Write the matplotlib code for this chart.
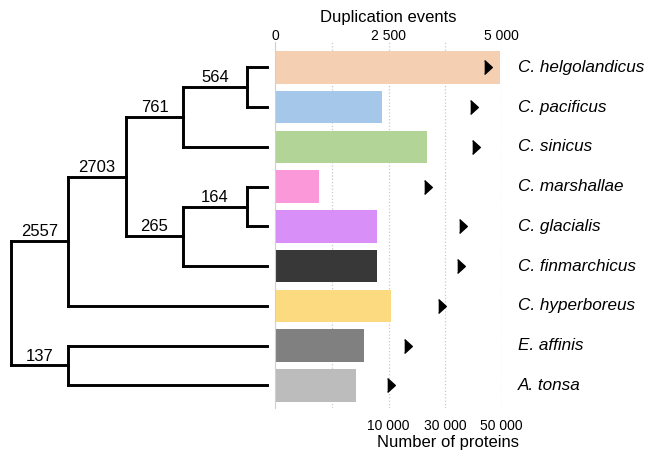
import matplotlib
matplotlib.use('Agg')
import matplotlib.pyplot as plt
import numpy as np

plt.rcParams['font.family'] = ['Liberation Sans', 'DejaVu Sans']

# Data (top to bottom)
species = ['C. helgolandicus', 'C. pacificus', 'C. sinicus', 'C. marshallae',
           'C. glacialis', 'C. finmarchicus', 'C. hyperboreus', 'E. affinis', 'A. tonsa']
proteins = [49400, 9430, 23500, 3890, 8970, 8970, 10960, 7860, 7160]
dup_events = [4690, 4380, 4440, 3370, 4140, 4110, 3680, 2930, 2550]
bar_colors = ['#f5cfb1', '#a5c7e9', '#b2d497', '#fb98da', '#d98ff8',
              '#383838', '#fcda7f', '#808080', '#bcbcbc']

# Tree: internal node -> children, node depth (pixel-like units)
tree = {
    'R': (['A', 'G'], 11),
    'A': (['B', 'C. hyperboreus'], 68),
    'G': (['E. affinis', 'A. tonsa'], 68),
    'B': (['C', 'D'], 126),
    'C': (['E', 'C. sinicus'], 183),
    'D': (['F', 'C. finmarchicus'], 183),
    'E': (['C. helgolandicus', 'C. pacificus'], 247),
    'F': (['C. marshallae', 'C. glacialis'], 247),
}
leaf_depth = 267
edge_labels = {'A': '2557', 'B': '2703', 'C': '761', 'E': '564',
               'D': '265', 'F': '164', 'G': '137'}

W, H = 648, 453
fig = plt.figure(figsize=(W / 100, H / 100), dpi=100)
bottom, top = 408, 42
left, right = 275.3, 501.7
ax = fig.add_axes([left / W, 1 - bottom / H, (right - left) / W, (bottom - top) / H])
axd = fig.add_axes([0, 1 - bottom / H, left / W, (bottom - top) / H])

ylim = (len(species) - 1 + 0.57, -0.64)

# --- bars: number of proteins on a piecewise scale ---
def fwd(n):
    n = np.asarray(n, float)
    return np.where(n < 10000, n * 0.25, 2500 + (n - 10000) * 0.0625)

def inv(e):
    e = np.asarray(e, float)
    return np.where(e < 2500, e * 4, 10000 + (e - 2500) * 16)

y = np.arange(len(species))
ax.set_xscale('function', functions=(fwd, inv))
ax.barh(y, proteins, height=0.82, color=bar_colors, edgecolor='none', zorder=2)
ax.set_xlim(0, 50000)
ax.set_ylim(*ylim)
ax.set_xticks([10000, 30000, 50000])
ax.set_xticklabels(['10 000', '30 000', '50 000'])
ax.set_xticks([0, 5000], minor=True)
ax.grid(axis='x', which='both', linestyle=':', color='#c8c8c8', linewidth=0.9, zorder=0)
ax.set_yticks([])
ax.tick_params(axis='x', which='both', length=0, labelsize=10, pad=8)
for s in ['top', 'right', 'bottom']:
    ax.spines[s].set_visible(False)
ax.spines['left'].set_color('#d0d0d0')
ax.set_xlabel('Number of proteins', fontsize=12, labelpad=4)
ax.xaxis.set_label_coords(0.763, -0.075)

# species labels
for yi, name in zip(y, species):
    ax.text(1.072, yi, name, transform=ax.get_yaxis_transform(), ha='left', va='center',
            fontsize=12.3, style='italic')

# --- duplication events on top axis ---
axt = ax.twiny()
axt.set_xlim(0, 5000)
axt.set_ylim(*ylim)
tri = [(-0.55, -1), (0.55, 0), (-0.55, 1)]
axt.scatter(dup_events, y, marker=tri, s=100, color='black', zorder=3)
axt.set_xticks([0, 2500, 5000])
axt.set_xticklabels(['0', '2 500', '5 000'])
axt.tick_params(axis='x', length=0, labelsize=10, pad=-1)
for s in ['top', 'right', 'bottom', 'left']:
    axt.spines[s].set_visible(False)
axt.set_xlabel('Duplication events', fontsize=12, labelpad=5)

# --- dendrogram ---
pos = {name: i for i, name in enumerate(species)}

def node_y(n):
    if n in pos:
        return pos[n]
    return np.mean([node_y(c) for c in tree[n][0]])

def node_x(n):
    return tree[n][1] if n in tree else leaf_depth

lw = 2.1
for n, (children, depth) in tree.items():
    cys = [node_y(c) for c in children]
    axd.plot([depth, depth], [min(cys), max(cys)], color='black', lw=lw, solid_capstyle='projecting')
    for c, cy in zip(children, cys):
        axd.plot([depth, node_x(c)], [cy, cy], color='black', lw=lw, solid_capstyle='projecting')
        if c in edge_labels:
            axd.annotate(edge_labels[c], xy=((depth + node_x(c)) / 2, cy), xytext=(0, 3.5),
                         textcoords='offset points', ha='center', va='baseline', fontsize=12)

axd.set_xlim(0, left)
axd.set_ylim(*ylim)
axd.axis('off')

fig.savefig('out.png', dpi=100)
